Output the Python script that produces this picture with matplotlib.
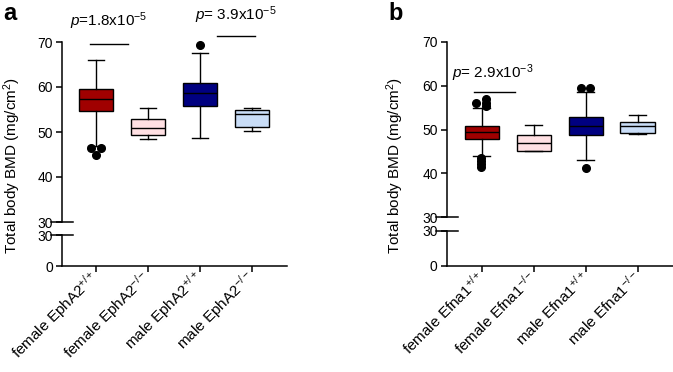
import matplotlib
matplotlib.use('Agg')
import matplotlib.pyplot as plt
import matplotlib.transforms as mtransforms

plt.rcParams['font.family'] = ['Liberation Sans', 'DejaVu Sans']
plt.rcParams['mathtext.fontset'] = 'custom'
plt.rcParams['mathtext.rm'] = 'Liberation Sans'
plt.rcParams['mathtext.it'] = 'Liberation Sans:italic'
plt.rcParams['axes.linewidth'] = 1.1

# Panel a: EphA2
labels_a = ['female EphA2$^{+/+}$', 'female EphA2$^{-/-}$',
            'male EphA2$^{+/+}$', 'male EphA2$^{-/-}$']
whislo_a = [47.0, 48.4, 48.7, 50.2]
q1_a = [54.7, 49.3, 55.7, 51.2]
med_a = [57.3, 51.0, 58.7, 53.9]
q3_a = [59.6, 52.9, 61.0, 55.0]
whishi_a = [66.0, 55.4, 67.6, 55.3]
fliers_a = [[46.5, 46.4, 44.8], [], [69.3], []]
flier_dx_a = [[-0.09, 0.09, 0.0], [], [0.0], []]

# Panel b: Efna1
labels_b = ['female Efna1$^{+/+}$', 'female Efna1$^{-/-}$',
            'male Efna1$^{+/+}$', 'male Efna1$^{-/-}$']
whislo_b = [44.0, 45.0, 43.0, 48.9]
q1_b = [47.9, 45.2, 48.8, 49.2]
med_b = [49.4, 46.9, 50.8, 50.8]
q3_b = [50.7, 48.8, 52.8, 51.8]
whishi_b = [54.8, 51.0, 58.5, 53.2]
fliers_b = [[56.0, 56.9, 56.1, 55.4, 43.5, 42.9, 42.2, 41.5], [], [59.4, 59.4, 41.2], []]
flier_dx_b = [[-0.1, 0.08, 0.08, 0.08, -0.02, -0.02, -0.02, -0.02], [], [-0.085, 0.085, 0.0], []]

colors = ['#A00000', '#FFE0E3', '#000080', '#C9DDF7']
ylabel = 'Total body BMD (mg/cm$^2$)'

fig = plt.figure(figsize=(6.73, 3.72), dpi=100)
W, H = 673, 372


def px_axes(x, top, w, h):
    return fig.add_axes([x / W, 1 - (top + h) / H, w / W, h / H])


def draw_panel(ax_t, ax_b, labels, lo, q1, med, q3, hi, fl, fdx, xlim):
    stats = []
    for i in range(4):
        stats.append(dict(whislo=lo[i], q1=q1[i], med=med[i], q3=q3[i],
                          whishi=hi[i], fliers=[]))
    pos = [1, 2, 3, 4]
    bp = ax_t.bxp(stats, positions=pos, widths=0.66, capwidths=0.32,
                  showfliers=False, patch_artist=True,
                  boxprops=dict(linewidth=1.0, edgecolor='black'),
                  medianprops=dict(color='black', linewidth=1.0),
                  whiskerprops=dict(linewidth=1.0, color='black'),
                  capprops=dict(linewidth=1.0, color='black'))
    for patch, c in zip(bp['boxes'], colors):
        patch.set_facecolor(c)
    for key in ['boxes', 'medians', 'whiskers', 'caps']:
        for art in bp[key]:
            art.set_clip_on(False)
    for i in range(4):
        xs = [pos[i] + d for d in fdx[i]]
        ax_t.plot(xs, fl[i], 'o', color='black', markersize=5.5, clip_on=False)

    for ax in (ax_t, ax_b):
        ax.set_xlim(*xlim)
        ax.spines['top'].set_visible(False)
        ax.spines['right'].set_visible(False)
        ax.tick_params(axis='both', labelsize=10, length=4.5, width=1.1, pad=2,
                       direction='out')
    ax_t.spines['bottom'].set_visible(False)
    ax_t.set_ylim(30, 70)
    ax_t.set_yticks([30, 40, 50, 60, 70])
    ax_t.set_xticks([])
    ax_b.set_ylim(0, 30)
    ax_b.set_yticks([0, 30])
    ax_b.set_xticks(pos)
    ax_b.set_xticklabels(labels, rotation=45, ha='right', va='center',
                         rotation_mode='anchor')
    for t in ax_b.get_xticklabels():
        t.set_fontsize(11)

    # axis break marks
    for ax in (ax_t, ax_b):
        tr = mtransforms.blended_transform_factory(ax.transAxes, ax.transData)
        ax.plot([-0.049, 0.049], [30, 30], color='black', linewidth=1.1,
                transform=tr, clip_on=False)


# panel a
axa_t = px_axes(62, 42, 225, 180)
axa_b = px_axes(62, 235, 225, 31)
draw_panel(axa_t, axa_b, labels_a, whislo_a, q1_a, med_a, q3_a, whishi_a,
           fliers_a, flier_dx_a, (0.346, 4.673))
axa_t.plot([0.885, 1.615], [69.6, 69.6], color='black', linewidth=1.0, clip_on=False)
axa_t.text(1.25, 73.6, '$\\it{p}$=1.8x10$^{-5}$', ha='center', va='baseline',
           fontsize=11)
axa_t.plot([3.33, 4.06], [71.4, 71.4], color='black', linewidth=1.0, clip_on=False)
axa_t.text(3.68, 74.9, '$\\it{p}$= 3.9x10$^{-5}$', ha='center', va='baseline',
           fontsize=11)

# panel b
axb_t = px_axes(446.7, 41.7, 226.3, 175.6)
axb_b = px_axes(446.7, 230.7, 226.3, 35)
draw_panel(axb_t, axb_b, labels_b, whislo_b, q1_b, med_b, q3_b, whishi_b,
           fliers_b, flier_dx_b, (0.327, 4.68))
axb_t.plot([0.85, 1.64], [58.6, 58.6], color='black', linewidth=1.0, clip_on=False)
axb_t.text(1.21, 61.7, '$\\it{p}$= 2.9x10$^{-3}$', ha='center', va='baseline',
           fontsize=11)

fig.text(12 / W, 1 - 165 / H, ylabel, rotation=90, ha='center', va='center',
         fontsize=11)
fig.text(395 / W, 1 - 165.7 / H, ylabel, rotation=90, ha='center', va='center',
         fontsize=11)
fig.text(3 / W, 1 - 20 / H, 'a', fontsize=17, fontweight='bold', va='baseline')
fig.text(388 / W, 1 - 20 / H, 'b', fontsize=17, fontweight='bold', va='baseline')

fig.savefig('out.png', dpi=100)
